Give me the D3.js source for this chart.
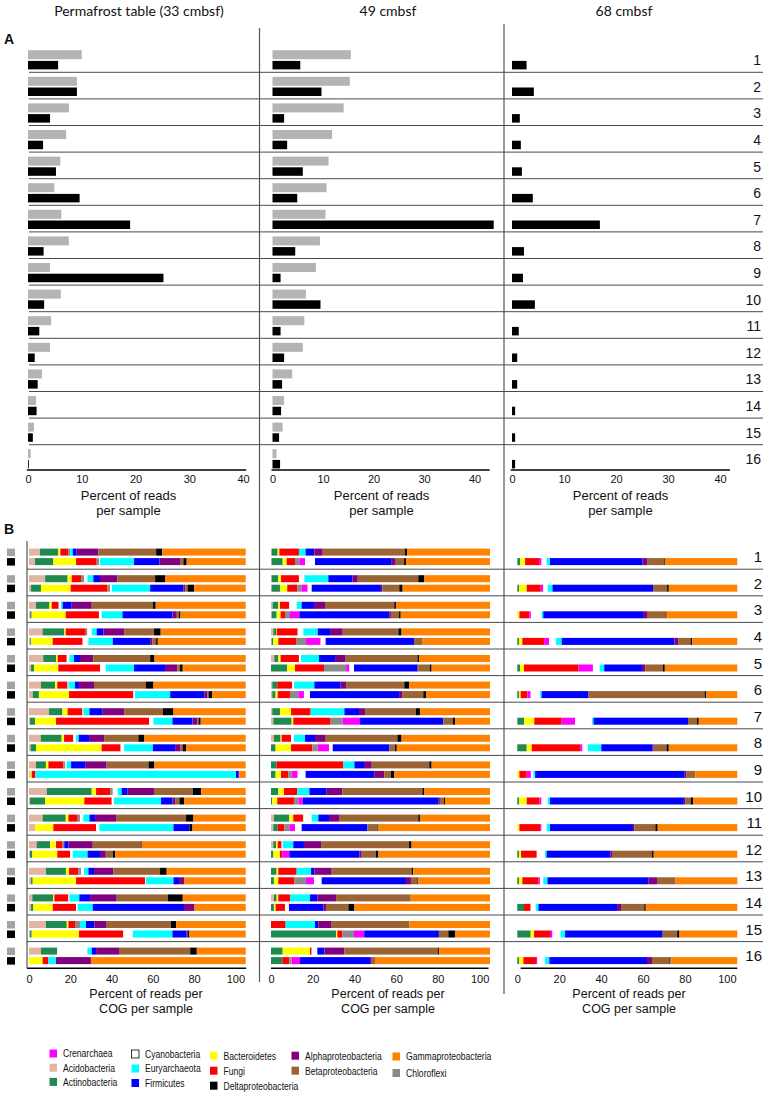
<!DOCTYPE html>
<html lang="en">
<head>
<meta charset="UTF-8">
<title>Percent of reads per sample</title>
<script src="https://d3js.org/d3.v7.min.js"></script>
<style>
  body { margin: 0; background: white; }
  svg text { font-family: "Liberation Sans", Arial, sans-serif; fill: #111; }
  .header { font-family: Lato, "Open Sans", sans-serif; font-size: 14px; }
  .legend text { font-family: "Liberation Sans", Arial, sans-serif; font-size: 11px; }
</style>
</head>
<body>
<svg id="chart" width="767" height="1096"></svg>
<script>

/** DATA **/
var rowLabels = ["1","2","3","4","5","6","7","8","9","10","11","12","13","14","15","16"];

// panel A: percent of reads per sample
var permafrostGray  = [10.0, 9.1, 7.6, 7.1, 6.0, 4.9, 6.2, 7.6, 4.1, 6.1, 4.3, 4.1, 2.6, 1.5, 1.1, 0.5];
var permafrostBlack = [5.6, 9.1, 4.1, 2.8, 5.2, 9.6, 19.0, 2.9, 25.2, 3.0, 2.1, 1.25, 1.8, 1.6, 0.9, 0.15];
var cm49Gray  = [15.5, 15.3, 14.1, 11.8, 11.1, 10.7, 10.5, 9.4, 8.6, 6.6, 6.3, 6.0, 3.9, 2.3, 2.0, 0.8];
var cm49Black = [5.5, 9.7, 2.3, 2.9, 6.0, 4.9, 43.8, 4.5, 1.6, 9.5, 1.6, 2.3, 1.9, 1.7, 1.3, 1.5];
var cm68Black = [2.8, 4.2, 1.5, 1.7, 1.9, 4.0, 16.9, 2.3, 2.1, 4.4, 1.3, 1.0, 1.0, 0.6, 0.6, 0.6];
var ticksA = [0, 10, 20, 30, 40];

// panel B: percent of reads per COG per sample, taxa in stacking order
var taxa = ["Acidobacteria", "Actinobacteria", "Bacteroidetes", "Fungi", "Chloroflexi", "Crenarchaea",
            "Cyanobacteria", "Euryarchaeota", "Firmicutes", "Alphaproteobacteria", "Betaproteobacteria",
            "Deltaproteobacteria", "Gammaproteobacteria"];
var taxaColors = ["#e2b5a3", "#1e8a4f", "#ffff00", "#ff0000", "#8a8a8a", "#ff00ff",
                  "#ffffff", "#00ffff", "#0000ff", "#800080", "#9a6434", "#000000", "#ff8200"];

var cogPermafrostGray = [
  [5.3, 8.9, 1.0, 3.9, 0.8, 0, 0, 1.3, 1.9, 10.5, 28.0, 3.0, 40.4],
  [7.8, 10.9, 2.0, 4.5, 1.6, 0, 1.6, 2.8, 3.2, 8.4, 18.3, 4.8, 39.1],
  [3.4, 6.5, 1.1, 3.2, 0.5, 0, 0.8, 0.8, 4.4, 9.7, 29.6, 1.4, 43.6],
  [6.6, 10.5, 0.7, 9.7, 0.8, 0, 2.1, 2.4, 3.2, 10.1, 14.5, 3.2, 41.2],
  [6.9, 6.2, 0.8, 4.4, 0, 0, 1.3, 2.2, 2.9, 6.5, 27.5, 2.1, 44.2],
  [5.8, 6.8, 1.1, 5.0, 0, 0, 0.4, 3.2, 1.9, 7.3, 25.2, 3.6, 44.7],
  [9.7, 6.5, 2.5, 7.2, 0, 0, 0.4, 3.0, 6.4, 10.4, 18.7, 5.2, 35.0],
  [5.7, 10.1, 1.2, 4.5, 0, 0, 1.3, 1.3, 5.0, 7.3, 16.6, 2.9, 49.1],
  [3.4, 4.8, 1.2, 7.2, 1.0, 0, 0.7, 2.1, 7.1, 10.1, 20.3, 2.7, 44.4],
  [8.6, 21.8, 2.1, 6.8, 1.3, 0, 2.4, 1.9, 2.9, 12.8, 18.7, 4.1, 21.6],
  [6.6, 11.2, 1.3, 4.5, 1.1, 0, 1.6, 3.0, 2.7, 10.2, 33.9, 3.6, 25.3],
  [3.7, 6.5, 2.9, 3.2, 0.8, 0, 0, 0, 2.0, 11.8, 23.2, 0.5, 50.4],
  [8.2, 9.7, 1.5, 4.5, 1.3, 0, 1.5, 2.1, 2.7, 9.4, 22.6, 3.2, 38.3],
  [1.6, 10.2, 0.5, 6.8, 0, 0, 0.5, 4.8, 5.2, 12.9, 24.7, 7.3, 30.5],
  [8.2, 10.1, 0.8, 3.2, 2.4, 0, 0, 2.9, 4.1, 5.6, 31.4, 2.6, 33.7],
  [5.8, 7.9, 0, 0, 0, 0, 14.6, 2.1, 2.1, 11.1, 34.5, 3.2, 23.7]
];
var cogPermafrostBlack = [
  [2.9, 8.9, 11.0, 10.0, 1.1, 0, 0.5, 16.5, 12.3, 10.0, 1.6, 1.6, 28.6],
  [1.0, 4.8, 14.4, 17.8, 1.3, 0, 0.9, 18.5, 16.1, 1.0, 1.0, 3.2, 25.0],
  [0.6, 0.7, 16.5, 16.1, 0, 0, 1.3, 10.1, 24.2, 2.1, 1.1, 0.7, 31.6],
  [0.6, 0.5, 10.4, 14.5, 0, 0, 2.8, 11.8, 18.1, 1.1, 1.8, 0.8, 42.6],
  [1.0, 1.4, 11.8, 20.2, 0, 0, 2.8, 13.7, 15.0, 6.0, 1.3, 1.3, 30.5],
  [1.8, 3.0, 14.6, 31.2, 0, 0, 0.8, 17.0, 16.5, 1.6, 0.5, 1.7, 16.3],
  [0.5, 2.4, 10.2, 45.1, 0, 0, 2.1, 9.2, 9.7, 2.4, 0.5, 1.1, 21.8],
  [0.8, 2.6, 31.8, 9.2, 0, 0, 1.7, 13.9, 10.8, 2.4, 1.2, 1.7, 28.9],
  [0.5, 0, 0.8, 1.8, 0, 0, 0, 97.2, 1.3, 0.3, 0, 0, 3.1],
  [0.5, 7.3, 19.0, 13.3, 0, 0, 1.1, 22.8, 5.5, 1.3, 2.1, 2.2, 29.9],
  [2.9, 0, 8.9, 20.7, 0, 0, 1.6, 35.9, 7.7, 0, 0, 1.5, 25.8],
  [0.5, 1.1, 12.1, 6.2, 0, 0, 1.3, 7.2, 6.0, 2.8, 3.4, 1.1, 63.3],
  [1.0, 0.8, 21.0, 33.4, 0, 0, 0.4, 13.4, 2.7, 2.6, 0, 0, 29.7],
  [1.0, 1.1, 9.4, 11.3, 0, 0, 0.8, 7.3, 44.2, 5.1, 0, 0, 24.8],
  [0.5, 0.8, 22.9, 21.5, 0, 0, 4.6, 19.2, 6.9, 0.5, 0, 0.8, 27.3],
  [0, 0, 6.6, 2.8, 0, 0, 0, 3.7, 0, 16.9, 0, 0, 75.0]
];
var cog49Gray = [
  [0.3, 2.9, 0.8, 9.4, 0, 0, 0, 3.2, 4.2, 4.0, 39.4, 1.0, 39.8],
  [0.3, 3.2, 1.3, 8.6, 0, 0, 2.6, 11.5, 11.5, 2.6, 29.0, 2.8, 31.6],
  [0.8, 2.7, 0.8, 4.5, 0, 0, 3.5, 2.4, 5.9, 5.3, 33.2, 0.8, 45.1],
  [1.1, 1.3, 0.3, 10.1, 0, 0, 2.7, 6.9, 5.9, 6.1, 26.7, 1.5, 42.4],
  [1.6, 1.9, 1.1, 8.8, 0, 0, 1.0, 8.6, 7.7, 5.1, 34.4, 0.8, 34.0],
  [0.6, 2.4, 0, 7.2, 0, 0, 0.8, 9.8, 12.6, 2.6, 27.9, 2.4, 38.7],
  [0.6, 3.7, 5.3, 9.4, 0, 0, 0, 16.2, 7.0, 2.9, 24.4, 1.9, 33.6],
  [1.4, 3.2, 0.5, 4.5, 0, 0, 1.4, 5.3, 4.8, 4.8, 34.7, 2.0, 42.4],
  [0, 2.7, 0, 32.0, 0, 0, 0, 5.3, 4.6, 3.7, 27.6, 1.1, 28.0],
  [0, 3.5, 2.7, 6.4, 0, 0, 0, 5.8, 8.3, 7.5, 38.4, 0.8, 31.6],
  [1.4, 7.4, 1.9, 4.8, 0, 0, 4.0, 3.2, 5.1, 4.8, 38.0, 0.8, 33.6],
  [1.1, 1.3, 0.8, 1.9, 0, 0, 0.5, 5.1, 5.1, 8.2, 42.2, 1.2, 37.6],
  [0, 2.7, 0.8, 8.8, 0, 0, 0, 6.9, 1.6, 8.3, 38.3, 0.8, 36.8],
  [1.4, 1.3, 0.8, 5.6, 0, 0, 0, 9.6, 3.5, 9.0, 35.8, 0, 38.0],
  [0, 0, 0, 7.0, 0, 0, 0, 14.1, 1.6, 6.4, 37.2, 0, 38.7],
  [0, 5.6, 13.1, 0.8, 0, 0, 2.7, 0, 3.4, 9.6, 44.7, 0.6, 24.5]
];
var cog49Black = [
  [0.3, 5.3, 1.9, 4.0, 2.1, 2.7, 4.8, 0, 36.8, 1.9, 4.0, 0.9, 40.3],
  [0.3, 4.0, 3.5, 4.8, 2.1, 2.9, 1.9, 0, 33.2, 0.7, 8.1, 1.6, 41.9],
  [0.3, 2.4, 1.9, 2.1, 2.4, 4.5, 0, 0, 43.1, 0.8, 3.9, 0.8, 42.8],
  [0.3, 0.8, 2.4, 8.5, 4.8, 7.0, 2.4, 0, 42.4, 0, 4.1, 0, 32.3],
  [0, 7.8, 3.7, 13.9, 10.6, 1.6, 2.2, 0, 30.4, 0.4, 5.6, 0.8, 28.0],
  [0.6, 1.6, 1.0, 5.9, 4.0, 2.7, 2.9, 0, 42.7, 1.7, 9.9, 1.3, 30.7],
  [1.1, 8.8, 0.8, 17.6, 6.1, 8.3, 0, 0, 39.9, 0, 4.5, 1.1, 16.8],
  [0, 2.2, 7.4, 10.2, 2.6, 5.4, 1.8, 0, 27.1, 0, 2.8, 0.8, 44.7],
  [0, 2.2, 2.6, 3.5, 1.6, 2.9, 3.8, 0, 32.9, 4.8, 3.2, 1.5, 46.0],
  [0, 0.6, 2.4, 8.0, 2.1, 2.1, 0, 0, 65.0, 0.8, 1.9, 0.5, 21.6],
  [1.1, 2.1, 0, 3.2, 2.4, 2.7, 3.2, 0, 31.5, 0, 4.9, 0.4, 53.5],
  [0, 1.1, 3.2, 1.1, 0, 3.4, 0, 0, 33.6, 1.1, 6.8, 1.2, 53.5],
  [0, 1.4, 2.1, 7.7, 5.6, 3.8, 3.7, 0, 40.4, 2.4, 3.1, 0.4, 34.4],
  [0, 1.4, 0.8, 4.5, 0, 0, 1.9, 0, 16.5, 1.3, 10.7, 2.9, 65.0],
  [0, 31.2, 0.6, 2.4, 5.6, 4.9, 0, 0, 35.8, 0, 4.5, 3.2, 16.8],
  [0, 5.4, 0, 3.4, 1.1, 4.0, 0, 0, 33.6, 0.8, 1.6, 0, 55.1]
];
var cog68Black = [
  [0, 1.3, 2.4, 6.7, 0, 1.2, 2.4, 1.6, 44.2, 2.4, 7.7, 0.5, 34.6],
  [0, 0.8, 3.7, 6.7, 0, 1.2, 2.1, 2.3, 48.0, 0.3, 6.4, 0.8, 32.7],
  [0, 0, 1.0, 4.7, 0, 0.8, 5.1, 0.8, 47.6, 1.9, 9.6, 0, 33.5],
  [0, 0.8, 1.6, 10.4, 0, 2.4, 3.2, 2.8, 53.8, 1.8, 5.9, 0.8, 21.5],
  [0, 1.3, 1.9, 26.0, 0, 6.9, 3.2, 2.2, 18.0, 1.6, 8.3, 1.0, 34.6],
  [0, 0.8, 0.8, 3.2, 0, 1.6, 4.5, 0.7, 22.4, 0, 55.4, 0.8, 14.8],
  [0, 3.2, 4.9, 13.1, 0, 6.4, 8.0, 0.8, 45.1, 0, 4.3, 0.8, 18.4],
  [0, 4.5, 2.4, 23.1, 0, 1.1, 2.6, 6.4, 24.5, 0.5, 6.1, 1.1, 32.7],
  [0, 0, 1.0, 3.5, 0, 2.0, 1.2, 0.8, 71.4, 0.7, 4.4, 0, 20.0],
  [0, 0.8, 3.7, 6.0, 0, 1.1, 2.9, 1.1, 63.9, 0.8, 2.4, 1.2, 21.1],
  [0, 0, 1.0, 9.9, 0, 0.7, 2.4, 1.6, 39.6, 0.7, 10.0, 1.1, 38.0],
  [0, 0.8, 1.0, 7.5, 0, 0, 3.9, 0.8, 30.4, 0.8, 19.1, 0.8, 39.9],
  [0, 0.8, 1.6, 7.7, 0, 0.8, 1.5, 2.0, 48.3, 4.0, 8.8, 0, 29.5],
  [0, 3.2, 0, 3.2, 0, 0, 2.4, 1.3, 37.5, 1.9, 11.1, 0.7, 43.7],
  [0, 6.4, 1.6, 7.6, 0, 1.2, 3.9, 2.1, 46.6, 0, 6.9, 1.1, 27.6],
  [0, 0.8, 2.1, 6.0, 0, 0.7, 3.6, 2.1, 46.6, 2.4, 8.3, 0.5, 31.9]
];
var ticksB = [0, 20, 40, 60, 80, 100];

// legend columns
var legendColumns = [
  ["Crenarchaea", "Acidobacteria", "Actinobacteria"],
  ["Cyanobacteria", "Euryarchaeota", "Firmicutes"],
  ["Bacteroidetes", "Fungi", "Deltaproteobacteria"],
  ["Alphaproteobacteria", "Betaproteobacteria"],
  ["Gammaproteobacteria", "Chloroflexi"]
];

/** LAYOUT **/
var svg = d3.select("#chart");
var rowStep = 26.6;
var topA = 45.7, axisYA = 470;
var topB = 542.6, axisYB = 968.3;

var colorOf = new Map(taxa.map(function (t, i) { return [t, taxaColors[i]]; }));

// column headers
[["Permafrost table (33 cmbsf)", 139], ["49 cmbsf", 388], ["68 cmbsf", 624]].forEach(function (h) {
  svg.append("text").attr("class", "header")
    .attr("x", h[1]).attr("y", 16).attr("text-anchor", "middle").text(h[0]);
});
svg.append("text").attr("x", 4).attr("y", 43.5).style("font-weight", "bold").style("font-size", "14px").text("A");
svg.append("text").attr("x", 4).attr("y", 533.5).style("font-weight", "bold").style("font-size", "14px").text("B");

// column dividers
svg.append("line").attr("x1", 259.5).attr("x2", 259.5).attr("y1", 28).attr("y2", 982)
  .attr("stroke", "#555").attr("stroke-width", 1.2);
svg.append("line").attr("x1", 504).attr("x2", 504).attr("y1", 24).attr("y2", 994)
  .attr("stroke", "#555").attr("stroke-width", 1.2);

// row separators
var yA = function (i) { return topA + i * rowStep; };
var yB = function (i) { return topB + i * rowStep; };
svg.append("g").selectAll("line").data(d3.range(1, 16)).enter().append("line")
  .attr("x1", 29).attr("x2", 763)
  .attr("y1", function (i) { return yA(i); }).attr("y2", function (i) { return yA(i); })
  .attr("stroke", "#4a4a4a").attr("stroke-width", 1);
svg.append("g").selectAll("line").data(d3.range(1, 16)).enter().append("line")
  .attr("x1", 27).attr("x2", 763)
  .attr("y1", function (i) { return yB(i); }).attr("y2", function (i) { return yB(i); })
  .attr("stroke", "#4a4a4a").attr("stroke-width", 1);

// row numbers
svg.append("g").selectAll("text").data(rowLabels).enter().append("text")
  .attr("x", 761).attr("y", function (d, i) { return yA(i) + 19.5; })
  .attr("text-anchor", "end").style("font-size", "14px").text(function (d) { return d; });
svg.append("g").selectAll("text").data(rowLabels).enter().append("text")
  .attr("x", 762).attr("y", function (d, i) { return yB(i) + 19.5; })
  .attr("text-anchor", "end").style("font-size", "15px").text(function (d) { return d; });

/** PANEL A **/
var panelsA = [
  { gray: permafrostGray, black: permafrostBlack, x: d3.scaleLinear().domain([0, 40]).range([28, 243]), line: [-0.2, 40.6], title: 128.5 },
  { gray: cm49Gray, black: cm49Black, x: d3.scaleLinear().domain([0, 40]).range([272.5, 474.5]), line: [-0.2, 43], title: 381.5 },
  { gray: null, black: cm68Black, x: d3.scaleLinear().domain([0, 40]).range([512, 720]), line: [-0.25, 41.9], title: 620.5 }
];

panelsA.forEach(function (p) {
  var g = svg.append("g");
  if (p.gray) {
    g.selectAll("rect.gray").data(p.gray).enter().append("rect").attr("class", "gray")
      .attr("x", p.x(0)).attr("y", function (d, i) { return yA(i) + 4.5; })
      .attr("width", function (d) { return p.x(d) - p.x(0); }).attr("height", 9)
      .attr("fill", "#b4b4b4");
  }
  g.selectAll("rect.black").data(p.black).enter().append("rect").attr("class", "black")
    .attr("x", p.x(0)).attr("y", function (d, i) { return yA(i) + 15.2; })
    .attr("width", function (d) { return p.x(d) - p.x(0); }).attr("height", 8.5)
    .attr("fill", "#000");

  // axis
  g.append("line").attr("x1", p.x(p.line[0])).attr("x2", p.x(p.line[1]))
    .attr("y1", axisYA).attr("y2", axisYA).attr("stroke", "#000").attr("stroke-width", 1.5);
  var ax = g.append("g").attr("transform", "translate(0," + axisYA + ")")
    .call(d3.axisBottom(p.x).tickValues(ticksA).tickSize(0).tickPadding(5));
  ax.select(".domain").remove();
  ax.selectAll("text").style("font-size", "11px").attr("fill", "#111");

  g.append("text").attr("x", p.title).attr("y", 500).attr("text-anchor", "middle")
    .style("font-size", "13px").text("Percent of reads");
  g.append("text").attr("x", p.title).attr("y", 514.5).attr("text-anchor", "middle")
    .style("font-size", "13px").text("per sample");
});

/** PANEL B **/
var panelsB = [
  { gray: cogPermafrostGray, black: cogPermafrostBlack, x: d3.scaleLinear().domain([0, 105]).range([29, 245.7]), line: [-1, 105.2], title: 146 },
  { gray: cog49Gray, black: cog49Black, x: d3.scaleLinear().domain([0, 105]).range([271, 490]), line: [0, 104.3], title: 388 },
  { gray: null, black: cog68Black, x: d3.scaleLinear().domain([0, 105]).range([517.3, 737.3]), line: [1.6, 105], title: 629 }
];

function stackBar(g, x, widths, y, h) {
  var ends = d3.cumsum(widths);
  var segs = widths.map(function (w, k) { return { taxon: taxa[k], start: ends[k] - w, end: ends[k] }; })
    .filter(function (s) { return s.end > s.start; });
  g.selectAll(null).data(segs).enter().append("rect")
    .attr("x", function (s) { return x(s.start); })
    .attr("width", function (s) { return x(s.end) - x(s.start); })
    .attr("y", y).attr("height", h)
    .attr("fill", function (s) { return colorOf.get(s.taxon); });
}

panelsB.forEach(function (p) {
  var g = svg.append("g");
  p.black.forEach(function (row, i) {
    if (p.gray) stackBar(g.append("g"), p.x, p.gray[i], yB(i) + 6, 7);
    stackBar(g.append("g"), p.x, row, yB(i) + 15.5, 7);
  });

  g.append("line").attr("x1", p.x(p.line[0])).attr("x2", p.x(p.line[1]))
    .attr("y1", axisYB).attr("y2", axisYB).attr("stroke", "#000").attr("stroke-width", 1.5);
  var ax = g.append("g").attr("transform", "translate(0," + axisYB + ")")
    .call(d3.axisBottom(p.x).tickValues(ticksB).tickSize(0).tickPadding(7));
  ax.select(".domain").remove();
  ax.selectAll("text").style("font-size", "11px").attr("fill", "#111");

  g.append("text").attr("x", p.title).attr("y", 998).attr("text-anchor", "middle")
    .style("font-size", "12.5px").text("Percent of reads per");
  g.append("text").attr("x", p.title).attr("y", 1013).attr("text-anchor", "middle")
    .style("font-size", "12.5px").text("COG per sample");
});

// left axis of panel B and sample markers
svg.append("line").attr("x1", 27).attr("x2", 27).attr("y1", 541).attr("y2", axisYB)
  .attr("stroke", "#333").attr("stroke-width", 1);
svg.append("g").selectAll("rect").data(rowLabels).enter().append("rect")
  .attr("x", 7).attr("y", function (d, i) { return yB(i) + 6; }).attr("width", 8).attr("height", 7.5)
  .attr("fill", "#a3a3a3");
svg.append("g").selectAll("rect").data(rowLabels).enter().append("rect")
  .attr("x", 7).attr("y", function (d, i) { return yB(i) + 15.5; }).attr("width", 8).attr("height", 7.5)
  .attr("fill", "#000");

/** LEGEND **/
var legendX = [49.5, 131.5, 210, 291.5, 392.5];
var legendY0 = [1049.5, 1050, 1051.7, 1051.7, 1052.5];
var legendStep = [14.2, 14.5, 15, 15, 16.5];
var legend = svg.append("g").attr("class", "legend");
legendColumns.forEach(function (col, c) {
  col.forEach(function (name, r) {
    var y = legendY0[c] + r * legendStep[c];
    legend.append("rect").attr("x", legendX[c]).attr("y", y).attr("width", 7.5).attr("height", 8)
      .attr("fill", colorOf.get(name))
      .attr("stroke", name === "Cyanobacteria" ? "#000" : "none").attr("stroke-width", 0.8);
    // condensed face: squeeze the text horizontally
    legend.append("text")
      .attr("transform", "translate(" + (legendX[c] + 13.5) + "," + (y + 7.8) + ") scale(0.78,1)")
      .text(name);
  });
});

</script>
</body>
</html>
